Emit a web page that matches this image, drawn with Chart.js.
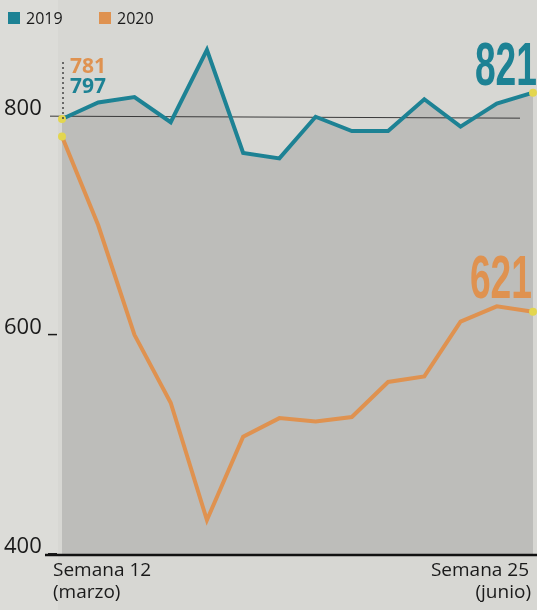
<!DOCTYPE html>
<html>
<head>
<meta charset="utf-8">
<script src="https://cdn.jsdelivr.net/npm/chart.js@4"></script>
<style>
  html, body { margin: 0; padding: 0; background: #d7d7d3; }
  #wrap { position: relative; width: 537px; height: 610px; }
</style>
</head>
<body>
<div id="wrap"><canvas id="c" width="537" height="610"></canvas></div>
<script>
const weeks = [12, 13, 14, 15, 16, 17, 18, 19, 20, 21, 22, 23, 24, 25];
const values2019 = [797, 812, 817, 794, 860, 766, 761, 799, 786, 786, 815, 790, 811, 821];
const values2020 = [781, 700, 600, 538, 431, 507, 524, 521, 525, 557, 562, 612, 626, 621];
const yTicks = [400, 600, 800];
const firstLabel = ['Semana 12', '(marzo)'];
const lastLabel = ['Semana 25', '(junio)'];
const seriesNames = ['2019', '2020'];

const TEAL = '#1d8294';
const ORANGE = '#df9250';
const YELLOW = '#e3d64f';

function edgePoint(ctx) {
  const i = ctx.dataIndex;
  return (i === 0 || i === weeks.length - 1) ? 4 : 0;
}

const decor = {
  id: 'decor',
  beforeDatasetsDraw(chart) {
    const { ctx, chartArea } = chart;
    ctx.save();
    ctx.fillStyle = '#dcdcd8';
    ctx.fillRect(0, 0, chartArea.left - 4, 610);
    ctx.restore();
  },
  beforeDatasetDraw(chart, args) {
    if (args.index !== 0) return;
    const { ctx, scales } = chart;
    const y800 = scales.y.getPixelForValue(800);
    ctx.save();
    ctx.strokeStyle = '#3a3a3a';
    ctx.lineWidth = 1;
    ctx.beginPath();
    ctx.moveTo(50, y800 + 0.5);
    ctx.lineTo(520, y800 + 2.5);
    ctx.stroke();
    ctx.restore();
  },
  afterDatasetsDraw(chart) {
    const { ctx, scales } = chart;
    const x = scales.x, y = scales.y;
    ctx.save();
    // baseline axis
    const yb = y.getPixelForValue(400);
    ctx.strokeStyle = '#111';
    ctx.lineWidth = 2.5;
    ctx.beginPath();
    ctx.moveTo(45, yb + 1);
    ctx.lineTo(537, yb + 1);
    ctx.stroke();
    // y tick labels
    ctx.fillStyle = '#1a1a1a';
    ctx.font = '22px "Open Sans", sans-serif';
    ctx.textAlign = 'left';
    ctx.textBaseline = 'alphabetic';
    yTicks.forEach(v => {
      const py = y.getPixelForValue(v);
      ctx.fillText(String(v), 4, py - 1);
      if (v !== 800) {
        ctx.fillRect(48, py - 1, 9, 1.5);
      }
    });
    // x labels
    ctx.font = '19px "Open Sans", sans-serif';
    const x0 = x.getPixelForValue(0);
    const x1 = x.getPixelForValue(weeks.length - 1);
    ctx.textAlign = 'left';
    ctx.fillText(firstLabel[0], x0 - 9, yb + 22);
    ctx.fillText(firstLabel[1], x0 - 9, yb + 44);
    ctx.textAlign = 'right';
    ctx.fillText(lastLabel[0], x1 - 4, yb + 22);
    ctx.fillText(lastLabel[1], x1 - 2, yb + 44);
    // legend
    ctx.textAlign = 'left';
    ctx.font = '16px "Open Sans", sans-serif';
    ctx.fillStyle = TEAL;
    ctx.fillRect(8, 12, 12, 12);
    ctx.fillStyle = '#1a1a1a';
    ctx.fillText(seriesNames[0], 26, 24);
    ctx.fillStyle = ORANGE;
    ctx.fillRect(99, 12, 12, 12);
    ctx.fillStyle = '#1a1a1a';
    ctx.fillText(seriesNames[1], 117, 24);
    // start annotations
    const sx = x0 + 1;
    ctx.strokeStyle = '#444';
    ctx.lineWidth = 1.5;
    ctx.setLineDash([2, 3]);
    ctx.beginPath();
    ctx.moveTo(sx, 62);
    ctx.lineTo(sx, y.getPixelForValue(values2019[0]));
    ctx.stroke();
    ctx.setLineDash([]);
    ctx.font = 'bold 21px "Open Sans", sans-serif';
    ctx.fillStyle = ORANGE;
    ctx.fillText(String(values2020[0]), sx + 7, 73);
    ctx.fillStyle = TEAL;
    ctx.fillText(String(values2019[0]), sx + 7, 93);
    // end annotations (condensed)
    function condensed(text, color, rightX, baseY) {
      ctx.save();
      ctx.font = 'bold 62px "Liberation Sans", Arial, sans-serif';
      ctx.fillStyle = color;
      ctx.textAlign = 'right';
      ctx.translate(rightX, baseY);
      ctx.scale(0.6, 1);
      ctx.fillText(text, 0, 0);
      ctx.restore();
    }
    condensed(String(values2019[values2019.length - 1]), TEAL, 537, 85);
    condensed(String(values2020[values2020.length - 1]), ORANGE, 532, 298);
    ctx.restore();
  }
};

new Chart(document.getElementById('c'), {
  type: 'line',
  data: {
    labels: weeks.map(w => 'Semana ' + w),
    datasets: [
      {
        label: seriesNames[0],
        data: values2019,
        borderColor: TEAL,
        borderWidth: 4,
        backgroundColor: '#bdbdba',
        fill: 'start',
        tension: 0,
        pointRadius: edgePoint,
        pointBackgroundColor: YELLOW,
        pointBorderWidth: 0,
        clip: false,
        order: 2
      },
      {
        label: seriesNames[1],
        data: values2020,
        borderColor: ORANGE,
        borderWidth: 4,
        fill: false,
        tension: 0,
        pointRadius: edgePoint,
        pointBackgroundColor: YELLOW,
        pointBorderWidth: 0,
        clip: false,
        order: 1
      }
    ]
  },
  options: {
    responsive: false,
    animation: false,
    layout: { padding: { left: 62, right: 2, top: 28, bottom: 56 } },
    scales: {
      x: { display: false, offset: false },
      y: { display: false, min: 400, max: 880 }
    },
    plugins: {
      legend: { display: false },
      tooltip: { enabled: false }
    }
  },
  plugins: [decor]
});
</script>
</body>
</html>
